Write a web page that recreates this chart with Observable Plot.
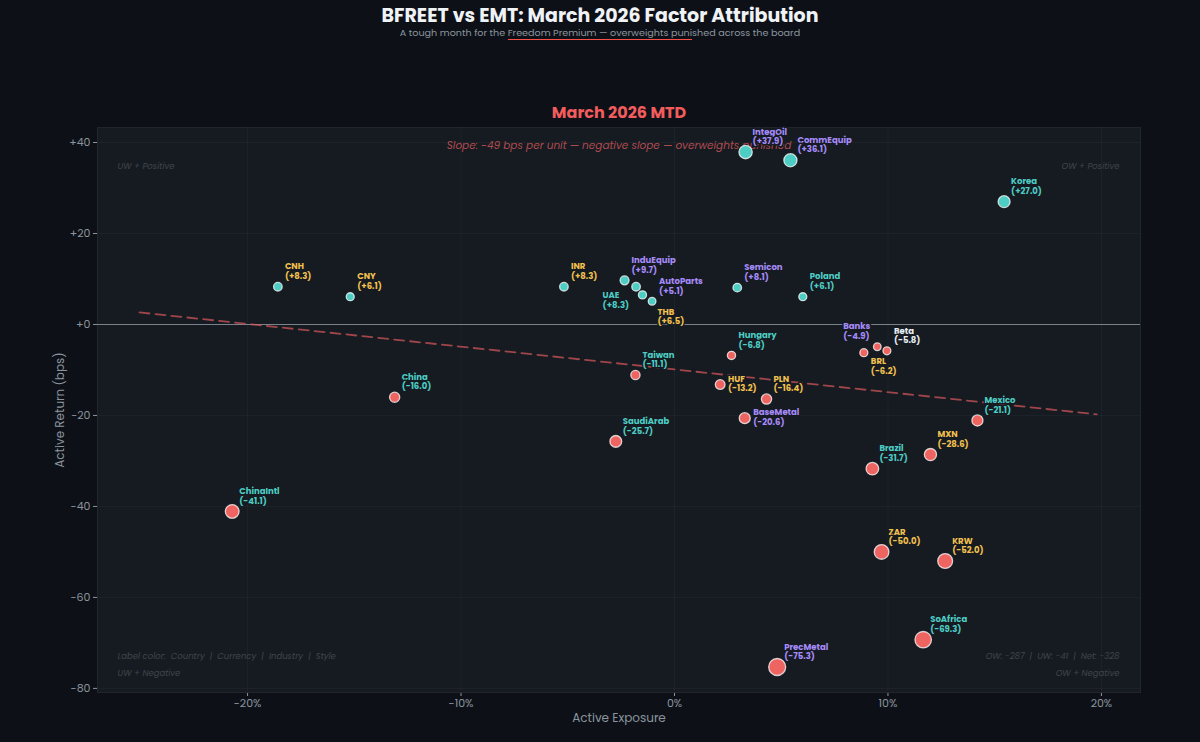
<!DOCTYPE html>
<html><head><meta charset="utf-8">
<script src="https://cdn.jsdelivr.net/npm/d3@7"></script>
<script src="https://cdn.jsdelivr.net/npm/@observablehq/plot@0.6"></script>
<style>
html,body{margin:0;padding:0;background:#0d1117;}
body{width:1200px;height:742px;position:relative;overflow:hidden;font-family:Poppins,Inter,"Noto Sans",sans-serif;}
#title{position:absolute;top:5.5px;left:0;width:1200px;text-align:center;font-size:19px;font-weight:700;color:#f0f3f6;line-height:19px;}
#subtitle{position:absolute;top:27.5px;left:0;width:1200px;text-align:center;font-size:9.6px;color:#8b949e;line-height:10px;}
#subtitle span{border-bottom:1px solid #f85149;}
#chart{position:absolute;top:100px;left:0;}
</style></head><body>
<div id="title">BFREET vs EMT: March 2026 Factor Attribution</div>
<div id="subtitle">A tough month for the <span>Freedom Premium — overweights puni</span>shed across the board</div>
<div id="chart"></div>
<script>
// ---- data ----
const names = ["IntegOil","CommEquip","Korea","CNH","CNY","INR","InduEquip","UAE","THB","AutoParts",
  "Semicon","Poland","Hungary","Taiwan","HUF","BaseMetal","PLN","SaudiArab","China","ChinaIntl",
  "BRL","Banks","Beta","Mexico","MXN","Brazil","ZAR","KRW","SoAfrica","PrecMetal"];
const categories = ["Industry","Industry","Country","Currency","Currency","Currency","Industry","Country","Currency","Industry",
  "Industry","Country","Country","Country","Currency","Industry","Currency","Country","Country","Country",
  "Currency","Industry","Style","Country","Currency","Country","Currency","Currency","Country","Industry"];
const exposures = [0.0333,0.0543,0.1544,-0.1858,-0.1519,-0.0518,-0.0234,-0.018,-0.015,-0.0105,
  0.0294,0.0601,0.0267,-0.0183,0.0214,0.0329,0.0431,-0.0275,-0.1311,-0.2072,
  0.0887,0.095,0.0995,0.1419,0.1199,0.0927,0.0970,0.1268,0.1165,0.0481];
const returns = [37.9,36.1,27.0,8.3,6.1,8.3,9.7,8.3,6.5,5.1,
  8.1,6.1,-6.8,-11.1,-13.2,-20.6,-16.4,-25.7,-16.0,-41.1,
  -6.2,-4.9,-5.8,-21.1,-28.6,-31.7,-50.0,-52.0,-69.3,-75.3];
const xTicks = [-0.2,-0.1,0,0.1,0.2];
const yTicks = [-80,-60,-40,-20,0,20,40];
const totals = {ow:-287, uw:-41, net:-328};
const categoryOrder = ["Country","Currency","Industry","Style"];

// ---- styles / layout ----
const catColor = {Country:"#4ecdc4", Currency:"#f2c14e", Industry:"#a78bfa", Style:"#e6edf3"};
const posColor = "#4ecdc4", negColor = "#ee6461";
const panelBg = "#161b22";
const font = "Poppins, Inter, 'Noto Sans', sans-serif";
const W = 1200, H = 642, mT = 27, mB = 50, mL = 97, mR = 60;
const xDomain = [-0.2703, 0.2183], yDomain = [-80.9, 43.3];
const labelSize = 8.5, labelLH = 1.12;

const data = names.map((n,i)=>({name:n, cat:categories[i], x:exposures[i], y:returns[i]}));

// regression
const mx = d3.mean(data,d=>d.x), my = d3.mean(data,d=>d.y);
const slope = d3.sum(data,d=>(d.x-mx)*(d.y-my)) / d3.sum(data,d=>(d.x-mx)**2);
const icpt = my - slope*mx;
const [xmin,xmax] = d3.extent(data,d=>d.x);
const pad = 0.12*(xmax-xmin);
const regPts = [xmin-pad, xmax+pad].map(x=>({x, y: icpt+slope*x}));

const fmtVal = v => (v>=0?"+":"-")+Math.abs(v).toFixed(1);
const fmtY = v => v>=0 ? "+"+v : "-"+Math.abs(v);
const fmtX = v => (v<0?"-":"")+Math.round(Math.abs(v)*100)+"%";

// ---- simple label placement (greedy, avoids overlaps) ----
const xs = d3.scaleLinear().domain(xDomain).range([mL, W-mR]);
const ys = d3.scaleLinear().domain(yDomain).range([H-mB, mT]);
const rMax = d3.max(data,d=>Math.abs(d.y));
const rs = d3.scaleSqrt().domain([0,rMax]).range([2.2,8.5]);
const ctx = document.createElement("canvas").getContext("2d");
ctx.font = `700 ${labelSize}px ${font}`;
data.forEach(d=>{
  d.px = xs(d.x); d.py = ys(d.y); d.r = rs(Math.abs(d.y));
  d.l1 = d.name; d.l2 = `(${fmtVal(d.y)})`;
  d.w = Math.max(ctx.measureText(d.l1).width, ctx.measureText(d.l2).width);
  d.h = 2*labelSize*labelLH;
});
const boxes = data.map(d=>({x0:d.px-d.r-1,y0:d.py-d.r-1,x1:d.px+d.r+1,y1:d.py+d.r+1,own:d.name}));
const overlap = (a,b)=>Math.max(0,Math.min(a.x1,b.x1)-Math.max(a.x0,b.x0))*Math.max(0,Math.min(a.y1,b.y1)-Math.max(a.y0,b.y0));
const order = data.slice().sort((a,b)=>Math.abs(b.y)-Math.abs(a.y));
order.forEach(d=>{
  const w=d.w, h=d.h, r=d.r;
  const base = [[7,-5-h],[r+3,-h/2],[7,5],[-7-w,-5-h],[-r-3-w,-h/2],[-7-w,5],[-w/2,-r-3-h],[-w/2,r+3]];
  const cands = [];
  [0,8,16,26].forEach(k=>base.forEach(([ox,oy])=>{
    const sx = ox>0?k:(ox< -w/2-1?-k:0), sy = oy<-h/2?-k:(oy>-h/2+1?k:0);
    cands.push([ox+sx, oy+sy]);
  }));
  let best=null, bestScore=Infinity;
  for (const [ox,oy] of cands){
    const b={x0:d.px+ox-1,y0:d.py+oy,x1:d.px+ox+w+1,y1:d.py+oy+h};
    let s=0;
    if (b.x0<mL+2||b.x1>W-mR-2||b.y0<mT-3||b.y1>H-mB-2) s+=1e6;
    for (const o of boxes) if (o.own!==d.name) s+=overlap(b,o);
    if (s<bestScore){bestScore=s;best=[ox,oy];}
    if (s===0) break;
  }
  d.lx = xs.invert(d.px+best[0]); d.ly = ys.invert(d.py+best[1]);
  boxes.push({x0:d.px+best[0]-1,y0:d.py+best[1],x1:d.px+best[0]+w+1,y1:d.py+best[1]+h,own:"label"});
});

const dim = "#3f454d";
const corner = (txt, anchor, dx, dy, ta) => Plot.text([txt], {frameAnchor:anchor, dx, dy, textAnchor:ta, lineAnchor:"middle",
  fill:dim, fontSize:8.5, fontStyle:"italic"});

const chart = Plot.plot({
  width:W, height:H,
  marginTop:mT, marginBottom:mB, marginLeft:mL, marginRight:mR,
  style:{background:"transparent", color:"#8b949e", fontFamily:font, fontSize:"11px"},
  x:{domain:xDomain, ticks:xTicks, tickFormat:fmtX, tickSize:4, tickPadding:3, label:null},
  y:{domain:yDomain, ticks:yTicks, tickFormat:fmtY, tickSize:4, tickPadding:3, label:null},
  r:{type:"sqrt", domain:[0, rMax], range:[2.2,8.5]},
  marks:[
    Plot.frame({fill:panelBg, stroke:"#21262d"}),
    Plot.ruleX(xTicks, {stroke:"#ffffff", strokeOpacity:0.035}),
    Plot.ruleY(yTicks, {stroke:"#ffffff", strokeOpacity:0.035}),
    Plot.ruleY([0], {stroke:"#8b949e", strokeWidth:1.2, strokeOpacity:0.85}),
    Plot.text([`Slope: ${Math.trunc(slope)} bps per unit — negative slope — overweights punished`],
      {frameAnchor:"top", dy:18, lineAnchor:"middle", fill:"#d9595b", fillOpacity:0.8, fontSize:10.5, fontStyle:"italic"}),
    Plot.line(regPts, {x:"x", y:"y", stroke:"#d9595b", strokeOpacity:0.7, strokeWidth:1.8, strokeDasharray:"10,6"}),
    Plot.dot(data, {x:"x", y:"y", r:d=>Math.abs(d.y), fill:d=>d.y>=0?posColor:negColor,
      stroke:"#ffffff", strokeOpacity:0.75, strokeWidth:1.3, sort:{channel:"r", order:"descending"}}),
    Plot.text(data, {x:"lx", y:"ly", text:d=>`${d.l1}\n${d.l2}`, fill:d=>catColor[d.cat],
      textAnchor:"start", lineAnchor:"top", lineHeight:labelLH,
      fontSize:labelSize, fontWeight:700, stroke:panelBg, strokeWidth:3}),
    corner("UW + Positive","top-left",20,39,"start"),
    corner("OW + Positive","top-right",-21,39,"end"),
    corner("UW + Negative","bottom-left",20,-19,"start"),
    corner("OW + Negative","bottom-right",-21,-19,"end"),
    corner("Label color:  "+categoryOrder.join("  |  "),"bottom-left",20,-36,"start"),
    corner(`OW: ${totals.ow}  |  UW: ${totals.uw}  |  Net: ${totals.net}`,"bottom-right",-21,-36,"end"),
    Plot.text(["March 2026 MTD"], {frameAnchor:"top", dy:-15, lineAnchor:"middle", fill:"#f25c5c", fontSize:16, fontWeight:700}),
    Plot.text(["Active Exposure"], {frameAnchor:"bottom", dy:26, lineAnchor:"middle", fill:"#8b949e", fontSize:12}),
    Plot.text(["Active Return (bps)"], {frameAnchor:"left", dx:-37, rotate:-90, textAnchor:"middle", lineAnchor:"middle", fill:"#8b949e", fontSize:12})
  ]
});
document.getElementById("chart").appendChild(chart);
</script></body></html>
